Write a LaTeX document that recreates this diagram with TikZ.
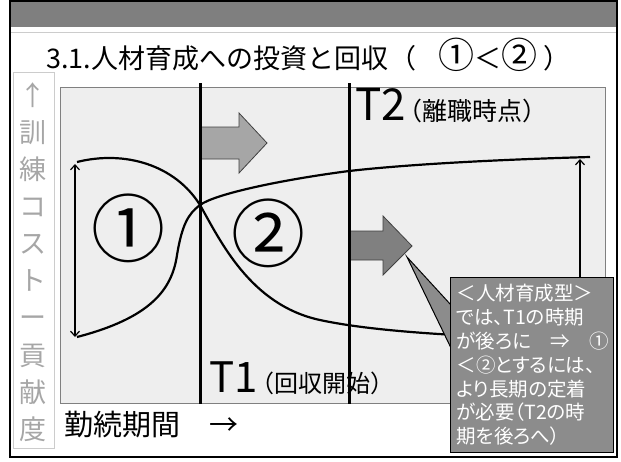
\documentclass[tikz,border=0pt]{standalone}
\usepackage{fontspec}
\setmainfont{Noto Sans CJK JP}
\newfontfamily\serre{Noto Sans CJK JP}[RawFeature=+palt]
\usetikzlibrary{arrows.meta}
\definecolor{gristitre}{HTML}{7F7F7F}
\definecolor{grisfond}{HTML}{EEEEEE}
\definecolor{grisaxe}{HTML}{A6A6A6}
\definecolor{grisclair}{HTML}{A6A6A6}
\definecolor{grisfonce}{HTML}{808080}
\definecolor{grisbulle}{HTML}{8C8C8C}
\tikzset{
    texte/.style={inner sep=0pt},
    courbe/.style={line width=2.2pt},
    ligneT/.style={line width=3pt},
    fleche/.style={line width=1.2pt,arrows={Straight Barb[length=5pt,width=9pt]-Straight Barb[length=5pt,width=9pt]}},
    flechegrise/.style={draw=black!75,line width=0.8pt,fill=#1},
    bulle/.style={fill=grisbulle,draw=black,line width=1pt,text=white,align=left,text width=151pt,
      inner xsep=6pt,inner ysep=4pt,minimum width=163pt,minimum height=175pt,
      font=\serre\fontsize{19.5}{23.8}\selectfont},
  }
\newcommand{\grand}[1]{{\fontsize{36}{36}\selectfont #1}}
\begin{document}
\begin{tikzpicture}[x=1pt,y=-1pt]
				  \useasboundingbox (0,0) rectangle (621,461);
				  %CADRE
				  \fill[white] (0,0) rectangle (621,461);
				  \fill[gristitre] (11,2) rectangle (617,27);
				  \draw[black!20,line width=0.6pt] (11,32) -- (617,32);
				  \draw[line width=2.2pt] (10,1) rectangle (617,457);
				  %TITRE
				  \node[texte,anchor=base west,font=\fontsize{27}{27}\selectfont] (titre) at (46,68) {3.1.人材育成への投資と回収\hspace{1pt}（\hspace{22pt}\grand{①}＜\grand{②}\hspace{6pt}）};
				  %AXE VERTICAL
				  \draw[black!20,line width=0.6pt] (13,72) rectangle (54,448);
				  \node[texte,text=grisaxe,align=center,font=\fontsize{27}{37.1}\selectfont] (axe) at (33,262) {↑\\訓\\練\\コ\\ス\\ト\\ー\\貢\\献\\度};
				  %ZONE
				  \draw[fill=grisfond,draw=black!50,line width=0.6pt] (60,87) rectangle (605,403);
				  %FLECHES GRISES
				  \draw[flechegrise=grisclair] (200,127) -- (239,127) -- (239,113) -- (267,143) -- (239,173) -- (239,159) -- (200,159) -- cycle;
				  \draw[flechegrise=grisfonce] (349,231) -- (383,231) -- (383,216) -- (412,246) -- (383,275) -- (383,260) -- (349,260) -- cycle;
				  %COURBES
				  \draw[courbe] (77,162) .. controls (125,150) and (175,165) .. (200,205) .. controls (220,240) and (250,305) .. (320,320) .. controls (380,333) and (480,337) .. (580,340);
				  \draw[courbe] (77,337) .. controls (150,318) and (172,290) .. (177,255) .. controls (182,225) and (188,214) .. (200,205) .. controls (215,194) and (280,180) .. (349,171) .. controls (420,163) and (520,159) .. (590,157);
				  %FLECHES
				  \coordinate (H1) at (75,164);
				  \coordinate (B1) at (75,337);
				  \draw[fleche] (H1) -- (B1);
				  \coordinate (H2) at (580,159);
				  \coordinate (B2) at (580,340);
				  \draw[fleche,arrows={-Straight Barb[length=5pt,width=9pt]}] (B2) -- (H2);
				  %T1,T2
				  \draw[ligneT] (200,83) -- (200,404);
				  \draw[ligneT] (349,83) -- (349,404);
				  \node[texte,anchor=base west] (T1) at (209,392) {{\fontsize{42}{42}\selectfont T1}{\fontsize{24}{24}\selectfont \hspace{-7pt}（回収開始）}};
				  \node[texte,anchor=base west] (T2) at (355,120) {{\fontsize{44}{44}\selectfont T2}{\fontsize{25}{25}\selectfont \hspace{-8pt}（離職時点）}};
				  %1,2
				  \node[texte,font=\fontsize{74}{74}\selectfont] (N1) at (128,228) {①};
				  \node[texte,font=\fontsize{74}{74}\selectfont] (N2) at (268,233) {②};
				  %DUREE
				  \node[texte,anchor=base west,font=\fontsize{29}{29}\selectfont] (duree) at (64,435) {勤続期間　→};
				  %BULLE
				  \coordinate (P) at (407,257);
				  \draw[fill=grisbulle,line width=1pt] (P) -- (451,305) -- (451,348) -- cycle;
				  \node[bulle,anchor=north west] (note) at (450,277) {＜人材育成型＞\\では、T1の時期\\が後ろに　⇒　①\\＜②とするには、\\より長期の定着\\が必要（T2の時\\期を後ろへ）};
\end{tikzpicture}
\end{document}
